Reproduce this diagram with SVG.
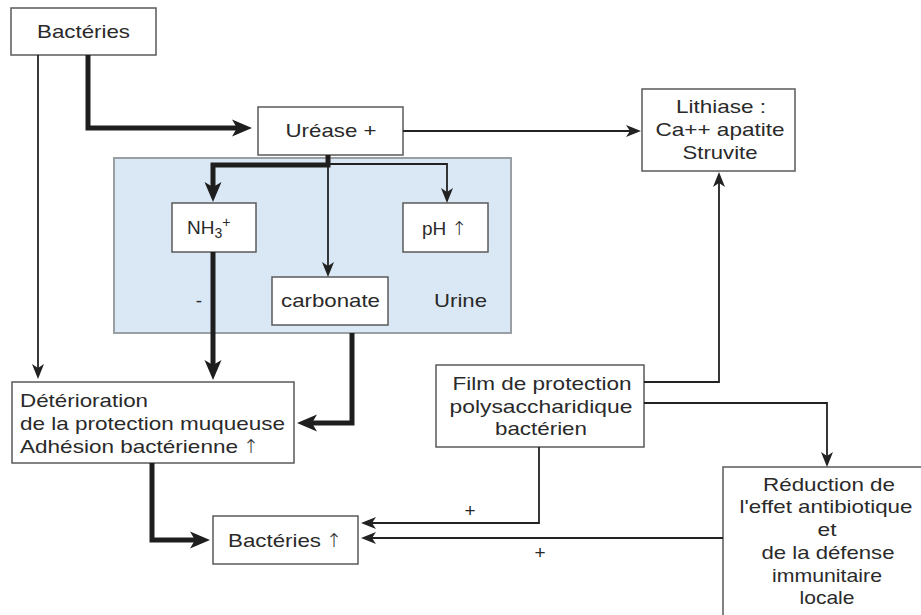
<svg xmlns="http://www.w3.org/2000/svg" width="921" height="615" viewBox="0 0 921 615">
<style>
.box{fill:#fff;stroke:#5a5a5a;stroke-width:1.5}
.urine{fill:#dae8f5;stroke:#9a9fa3;stroke-width:2}
text{font-family:"Liberation Sans",Arial,sans-serif;font-size:19px;fill:#2a2a2a}
.c{text-anchor:middle}
.ar{font-family:"DejaVu Sans",sans-serif;font-weight:200}
.thin{fill:none;stroke:#222;stroke-width:1.8}
.thick{fill:none;stroke:#1e1e1e;stroke-width:5;stroke-linejoin:miter}
</style>
<defs>
<marker id="at" markerUnits="userSpaceOnUse" markerWidth="16" markerHeight="13" refX="4" refY="6" orient="auto" overflow="visible">
<path d="M0,0 L15,6 L0,12 L4,6 Z" fill="#222"/>
</marker>
<marker id="ak" markerUnits="userSpaceOnUse" markerWidth="21" markerHeight="18" refX="5" refY="8.5" orient="auto" overflow="visible">
<path d="M0,0 L20,8.5 L0,17 L5,8.5 Z" fill="#1e1e1e"/>
</marker>
</defs>

<rect id="urine-zone" class="urine" x="114" y="158" width="397" height="175"/>

<g id="bacteries">
<rect class="box" x="11" y="8" width="145" height="47"/>
<text class="c" x="83.5" y="38" textLength="93" lengthAdjust="spacingAndGlyphs">Bactéries</text>
</g>
<g id="urease">
<rect class="box" x="258" y="107" width="145" height="48"/>
<text class="c" x="331" y="137" textLength="91" lengthAdjust="spacingAndGlyphs">Uréase +</text>
</g>
<g id="lithiase">
<rect class="box" x="642" y="89" width="153" height="82"/>
<text class="c" x="721" y="113" textLength="90" lengthAdjust="spacingAndGlyphs">Lithiase :</text>
<text class="c" x="720" y="136" textLength="129" lengthAdjust="spacingAndGlyphs">Ca++ apatite</text>
<text class="c" x="720" y="159" textLength="75" lengthAdjust="spacingAndGlyphs">Struvite</text>
</g>
<g id="nh3">
<rect class="box" x="172" y="203" width="84" height="49"/>
<text x="187" y="234" font-size="20">NH<tspan font-size="14" dy="4">3</tspan><tspan font-size="14" dy="-11">+</tspan></text>
</g>
<g id="ph">
<rect class="box" x="403" y="203" width="85" height="49"/>
<text x="422" y="235">pH <tspan class="ar">↑</tspan></text>
</g>
<g id="carbonate">
<rect class="box" x="272" y="277" width="116" height="48"/>
<text class="c" x="330.5" y="307" textLength="99" lengthAdjust="spacingAndGlyphs">carbonate</text>
</g>
<g id="urine-label">
<text x="434" y="307" textLength="53" lengthAdjust="spacingAndGlyphs">Urine</text>
<text class="c" x="199" y="307">-</text>
</g>
<g id="deterioration">
<rect class="box" x="12" y="382" width="282" height="81"/>
<text x="20" y="407" textLength="128" lengthAdjust="spacingAndGlyphs">Détérioration</text>
<text x="20" y="430" textLength="265" lengthAdjust="spacingAndGlyphs">de la protection muqueuse</text>
<text x="20" y="453"><tspan textLength="218" lengthAdjust="spacingAndGlyphs">Adhésion bactérienne</tspan> <tspan class="ar">↑</tspan></text>
</g>
<g id="bacteries-up">
<rect class="box" x="213" y="516" width="145" height="48"/>
<text x="228" y="547"><tspan textLength="93" lengthAdjust="spacingAndGlyphs">Bactéries</tspan> <tspan class="ar">↑</tspan></text>
</g>
<g id="film">
<rect class="box" x="436" y="365" width="208" height="82"/>
<text class="c" x="542" y="390" textLength="179" lengthAdjust="spacingAndGlyphs">Film de protection</text>
<text class="c" x="541" y="413" textLength="183" lengthAdjust="spacingAndGlyphs">polysaccharidique</text>
<text class="c" x="541" y="435" textLength="92" lengthAdjust="spacingAndGlyphs">bactérien</text>
</g>
<g id="reduction">
<rect class="box" x="723" y="467" width="210" height="160"/>
<text class="c" x="829" y="491" textLength="132" lengthAdjust="spacingAndGlyphs">Réduction de</text>
<text class="c" x="826" y="513" textLength="173" lengthAdjust="spacingAndGlyphs">l'effet antibiotique</text>
<text class="c" x="827" y="536" textLength="19" lengthAdjust="spacingAndGlyphs">et</text>
<text class="c" x="828" y="559" textLength="133" lengthAdjust="spacingAndGlyphs">de la défense</text>
<text class="c" x="827" y="582" textLength="110" lengthAdjust="spacingAndGlyphs">immunitaire</text>
<text class="c" x="827" y="604" textLength="55" lengthAdjust="spacingAndGlyphs">locale</text>
</g>

<g id="connectors">
<path class="thin" d="M38,55 V368" marker-end="url(#at)"/>
<path class="thin" d="M403,131 H630" marker-end="url(#at)"/>
<path class="thin" d="M328,164 H447 V192" marker-end="url(#at)"/>
<path class="thin" d="M328,155 V266" marker-end="url(#at)"/>
<path class="thin" d="M644,382 H719 V183" marker-end="url(#at)"/>
<path class="thin" d="M644,403 H827 V456" marker-end="url(#at)"/>
<path class="thin" d="M539,447 V523 H372" marker-end="url(#at)"/>
<path class="thin" d="M723,538 H372" marker-end="url(#at)"/>
<path class="thick" d="M88,55 V128 H237" marker-end="url(#ak)"/>
<path class="thick" d="M328,155 V165 H213 V187" marker-end="url(#ak)"/>
<path class="thick" d="M213,252 V365" marker-end="url(#ak)"/>
<path class="thick" d="M352,333 V423 H312" marker-end="url(#ak)"/>
<path class="thick" d="M152,463 V540 H195" marker-end="url(#ak)"/>
<text class="c" x="470" y="517">+</text>
<text class="c" x="540" y="559">+</text>
</g>
</svg>
